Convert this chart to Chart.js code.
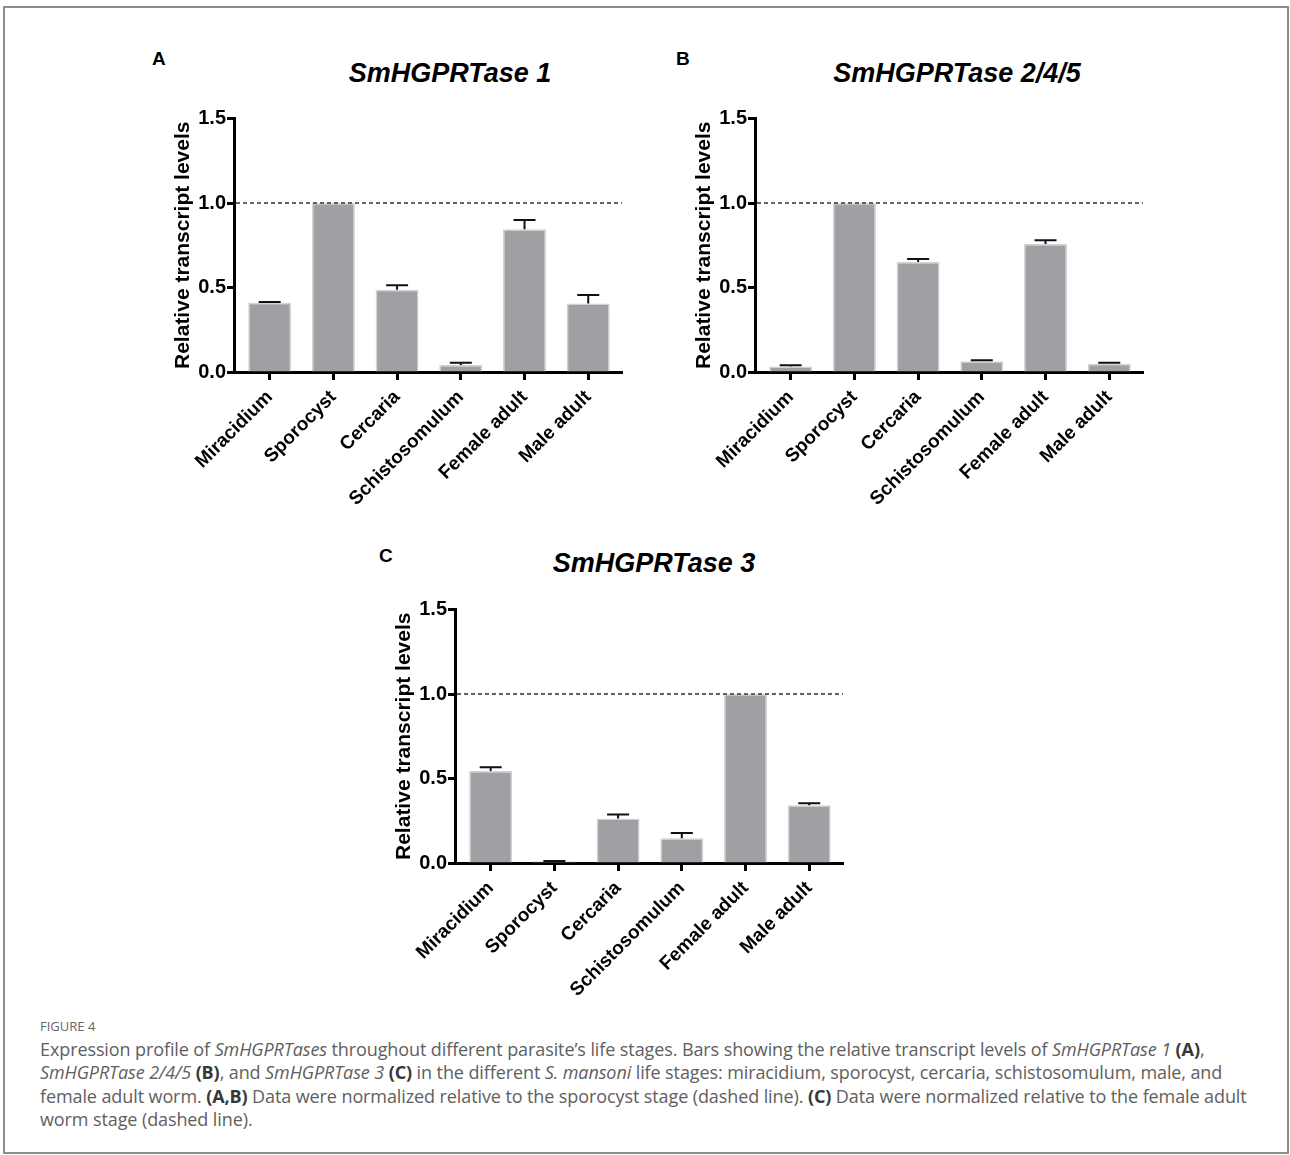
<!DOCTYPE html>
<html>
<head>
<meta charset="utf-8">
<script src="https://cdn.jsdelivr.net/npm/chart.js@4.4.1/dist/chart.umd.min.js"></script>
<style>
  body { margin: 0; background: #fff; width: 1290px; height: 1155px; position: relative; overflow: hidden; font-family: 'Liberation Sans', Arial, sans-serif; }
  .frame { position: absolute; left: 3px; top: 6px; width: 1286px; height: 1148px; box-sizing: border-box; border: 2px solid #8c8c8c; }
  canvas { position: absolute; }
  .letter { position: absolute; font-weight: bold; font-size: 19px; line-height: 1; color: #000; }
  .title { position: absolute; font-weight: bold; font-style: italic; font-size: 27px; line-height: 1; color: #000; white-space: nowrap; transform: translateX(-50%); }
  .figlabel { position: absolute; left: 40px; top: 1020px; font-family: 'Open Sans', sans-serif; font-size: 13px; line-height: 1; color: #666; }
  .caption { position: absolute; left: 40px; top: 1038px; font-family: 'Open Sans', sans-serif; font-size: 18px; line-height: 23.3px; color: #606060; white-space: nowrap; letter-spacing: -0.1px; }
  .caption b { color: #383838; }
</style>
</head>
<body>
<div class="frame"></div>

<div class="letter" style="left:152px; top:49px;">A</div>
<div class="letter" style="left:676px; top:49px;">B</div>
<div class="letter" style="left:379px; top:546px;">C</div>

<div class="title" style="left:450px; top:60px;">SmHGPRTase 1</div>
<div class="title" style="left:957px; top:60px;">SmHGPRTase 2/4/5</div>
<div class="title" style="left:654px; top:550px;">SmHGPRTase 3</div>

<canvas id="chartA" width="507" height="470" style="left:133px; top:40px;"></canvas>
<canvas id="chartB" width="507" height="470" style="left:654px; top:40px;"></canvas>
<canvas id="chartC" width="507" height="470" style="left:354px; top:531px;"></canvas>

<div class="figlabel">FIGURE 4</div>
<div class="caption">Expression profile of <i>SmHGPRTases</i> throughout different parasite’s life stages. Bars showing the relative transcript levels of <i>SmHGPRTase 1</i> <b>(A)</b>,<br><i>SmHGPRTase 2/4/5</i> <b>(B)</b>, and <i>SmHGPRTase 3</i> <b>(C)</b> in the different <i>S. mansoni</i> life stages: miracidium, sporocyst, cercaria, schistosomulum, male, and<br>female adult worm. <b>(A,B)</b> Data were normalized relative to the sporocyst stage (dashed line). <b>(C)</b> Data were normalized relative to the female adult<br>worm stage (dashed line).</div>

<script>
// life stages (x axis)
let stages = ["Miracidium", "Sporocyst", "Cercaria", "Schistosomulum", "Female adult", "Male adult"];
let yTicks = [0, 0.5, 1.0, 1.5];
let refLevel = 1.0;

// relative transcript levels + upper error (SEM)
let valuesA = [0.41, 1.0, 0.487, 0.041, 0.844, 0.406];
let errorsA = [0.004, 0, 0.026, 0.014, 0.055, 0.05];

let valuesB = [0.033, 1.0, 0.651, 0.064, 0.757, 0.049];
let errorsB = [0.007, 0, 0.017, 0.006, 0.023, 0.006];

let valuesC = [0.544, 0.01, 0.263, 0.147, 1.0, 0.342];
let errorsC = [0.023, 0.002, 0.024, 0.03, 0, 0.012];

const fontFamily = "'Liberation Sans', Arial, sans-serif";
const barColor = '#a09fa4';

// dashed reference line at y = 1.0
const refLinePlugin = {
  id: 'refLine',
  afterDatasetsDraw(chart) {
    const ctx = chart.ctx;
    const y = chart.scales.y.getPixelForValue(refLevel);
    ctx.save();
    ctx.strokeStyle = '#333';
    ctx.lineWidth = 1.3;
    ctx.setLineDash([4, 3]);
    ctx.beginPath();
    ctx.moveTo(chart.chartArea.left + 2, y);
    ctx.lineTo(chart.chartArea.right, y);
    ctx.stroke();
    ctx.restore();
  }
};

// upper error bars with a cap
const errorBarPlugin = {
  id: 'errorBars',
  afterDatasetsDraw(chart) {
    const ctx = chart.ctx;
    const ds = chart.data.datasets[0];
    const meta = chart.getDatasetMeta(0);
    const yScale = chart.scales.y;
    ctx.save();
    ctx.strokeStyle = '#111';
    ctx.lineWidth = 2;
    meta.data.forEach((bar, i) => {
      const err = ds.errors[i];
      if (!err) return;
      const v = ds.data[i].y;
      const y0 = yScale.getPixelForValue(v);
      const y1 = yScale.getPixelForValue(v + err);
      ctx.beginPath();
      ctx.moveTo(bar.x, y0);
      ctx.lineTo(bar.x, y1);
      ctx.moveTo(bar.x - 11, y1);
      ctx.lineTo(bar.x + 11, y1);
      ctx.stroke();
    });
    ctx.restore();
  }
};

function drawPanel(id, values, errors) {
  new Chart(document.getElementById(id), {
    type: 'bar',
    data: {
      datasets: [{
        data: values.map((v, i) => ({x: i, y: v})),
        errors: errors,
        backgroundColor: barColor,
        borderColor: '#d2d2d2',
        borderWidth: 1.5,
        barPercentage: 0.675,
        categoryPercentage: 1
      }]
    },
    options: {
      responsive: false,
      animation: false,
      events: [],
      layout: { padding: { top: 78.5, right: 18, bottom: 0, left: 0 } },
      plugins: { legend: { display: false }, tooltip: { enabled: false } },
      scales: {
        x: {
          type: 'linear',
          bounds: 'data',
          offset: false,
          min: -0.56,
          max: 5.53,
          afterBuildTicks: s => { s.ticks = stages.map((_, i) => ({value: i})); },
          afterFit: s => { s.height = 138; },
          ticks: {
            callback: v => stages[v],
            minRotation: 45,
            maxRotation: 45,
            autoSkip: false,
            padding: 6,
            color: '#000',
            font: { family: fontFamily, size: 19, weight: 'bold' }
          },
          grid: { display: true, offset: false, drawOnChartArea: false, tickLength: 8, tickWidth: 3, tickColor: '#000' },
          border: { display: true, color: '#000', width: 3 }
        },
        y: {
          min: 0,
          max: 1.5,
          afterBuildTicks: s => { s.ticks = yTicks.map(v => ({value: v})); },
          afterFit: s => { s.width = 101; },
          ticks: {
            callback: v => v.toFixed(1),
            padding: 1,
            color: '#000',
            font: { family: fontFamily, size: 20, weight: 'bold' }
          },
          grid: { display: true, drawOnChartArea: false, tickLength: 7, tickWidth: 3, tickColor: '#000' },
          border: { display: true, color: '#000', width: 3 },
          title: {
            display: true,
            text: 'Relative transcript levels',
            color: '#000',
            padding: { top: 38, bottom: 0 },
            font: { family: fontFamily, size: 21, weight: 'bold' }
          }
        }
      }
    },
    plugins: [refLinePlugin, errorBarPlugin]
  });
}

drawPanel('chartA', valuesA, errorsA);
drawPanel('chartB', valuesB, errorsB);
drawPanel('chartC', valuesC, errorsC);
</script>
</body>
</html>
